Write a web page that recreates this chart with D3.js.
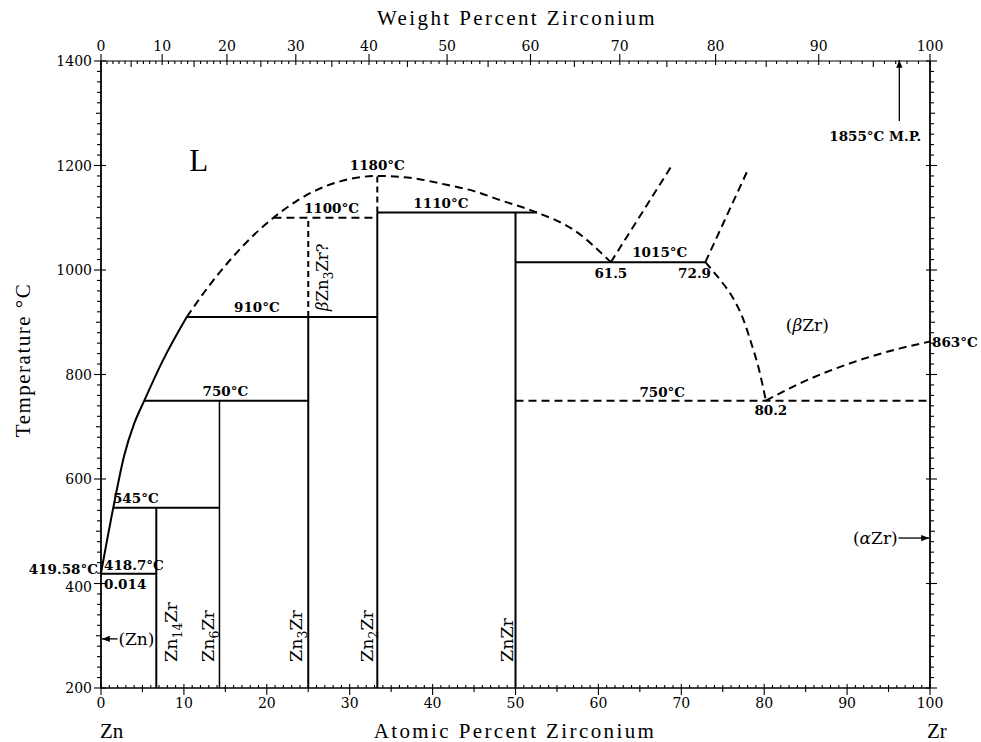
<!DOCTYPE html>
<html><head><meta charset="utf-8">
<script src="https://cdn.jsdelivr.net/npm/d3@7"></script>
<style>
body{margin:0;background:#fff;}
svg text{font-family:"DejaVu Serif",serif;fill:#000;}
</style></head>
<body><svg id="c" width="981" height="742"></svg>
<script>
// ---- data (atomic % Zr, temperature °C) ----
const atTicks = [0,10,20,30,40,50,60,70,80,90,100];
const wtTicks = [0,10,20,30,40,50,60,70,80,90,100];
const tempTicks = [200,400,600,800,1000,1200,1400];

const liquidusSolid = [[0,419.58],[1.48,545],[2.8,645],[4.0,706],[5.22,750],[7.5,828],[10.34,910]];
const liquidusDashed = [[10.34,910],[13,969],[15.9,1025],[18.5,1068],[20.8,1100],[23.5,1131],[26,1153],[28.5,1168],[31,1177],[33.33,1180],[37,1177],[41.7,1163],[45,1151],[48.1,1134],[52.6,1110],[57,1077],[61.5,1015]];
const boundary615 = [[61.5,1015],[68.7,1196]];
const boundary729 = [[72.9,1015],[78.1,1194]];
const betaZrSolvus = [[72.9,1015],[75.9,955],[78.7,847],[80.2,750]];
const betaAlpha = [[80.2,750],[84.3,783],[90.3,821],[96.4,850],[100,863]];

const compoundX = [6.67,14.29,25,33.33,50];
const compoundTop = [545,750,910,1110,1110];
const compoundNames = [["Zn","14","Zr"],["Zn","6","Zr"],["Zn","3","Zr"],["Zn","2","Zr"],["ZnZr","",""]];

const isoT = [418.7,545,750,910,1100,1110,1015,750];
const isoX0 = [0,1.48,5.22,10.34,20.8,33.33,50,50];
const isoX1 = [6.67,14.29,25,33.33,33.33,52.6,72.9,100];
const isoDashed = [false,false,false,false,true,false,false,true];

const dashV = [[25,910,1100],[33.33,1110,1180]];

// ---- scales ----
const svg = d3.select("#c");
const x = d3.scaleLinear().domain([0,100]).range([101,930]);
const y = d3.scaleLinear().domain([200,1400]).range([688,61]);
const wtToAt = w => { const a=w/91.224, b=(100-w)/65.38; return (a+b)===0?0:100*a/(a+b); };

const g = svg.append("g");
const line = d3.line().x(d=>x(d[0])).y(d=>y(d[1])).curve(d3.curveMonotoneX);
const lineY = d3.line().x(d=>x(d[0])).y(d=>y(d[1])).curve(d3.curveMonotoneY);
const straight = d3.line().x(d=>x(d[0])).y(d=>y(d[1]));

// ---- axes frame ----
g.append("line").attr("x1",x(0)).attr("x2",x(100)).attr("y1",y(200)).attr("y2",y(200)).attr("stroke","#000").attr("stroke-width",1.6);
g.append("line").attr("x1",x(0)).attr("x2",x(100)).attr("y1",y(1400)).attr("y2",y(1400)).attr("stroke","#000").attr("stroke-width",1.2);
g.append("line").attr("x1",x(0)).attr("x2",x(0)).attr("y1",y(200)).attr("y2",y(1400)).attr("stroke","#000").attr("stroke-width",1.8);
g.append("line").attr("x1",x(100)).attr("x2",x(100)).attr("y1",y(200)).attr("y2",y(1400)).attr("stroke","#000").attr("stroke-width",1.8);

const tk = g.append("g").attr("stroke","#000").attr("stroke-width",1.1);
d3.range(0,101,1).forEach(v=>{
  const major = v%10===0, mid = v%5===0;
  tk.append("line").attr("x1",x(v)).attr("x2",x(v))
    .attr("y1",y(200)-(major?4:3)).attr("y2",y(200)+(major?7:(mid?4:0)));
});
d3.range(0,101,1).forEach(v=>{
  const major = v%10===0, mid = v%5===0;
  const px = x(wtToAt(v));
  tk.append("line").attr("x1",px).attr("x2",px)
    .attr("y1",y(1400)-(major?7:0)).attr("y2",y(1400)+(major?4:(mid?6:3)));
});
d3.range(200,1401,20).forEach(v=>{
  const major = v%200===0, mid=v%100===0;
  tk.append("line").attr("x1",x(0)-(major?7:(mid?5:4))).attr("x2",x(0)+(major?5:0))
    .attr("y1",y(v)).attr("y2",y(v));
});
d3.range(200,1401,20).forEach(v=>{
  const major = v%200===0, mid=v%100===0;
  tk.append("line").attr("x1",x(100)-(major?4:0)).attr("x2",x(100)+(major?7:(mid?5:4)))
    .attr("y1",y(v)).attr("y2",y(v));
});

// tick labels
atTicks.forEach(v=>{
  g.append("text").attr("x",x(v)).attr("y",y(200)+20).attr("text-anchor","middle")
   .attr("font-size",14).text(v);
});
wtTicks.forEach(v=>{
  g.append("text").attr("x",x(wtToAt(v))).attr("y",y(1400)-10).attr("text-anchor","middle")
   .attr("font-size",14).text(v);
});
tempTicks.forEach(v=>{
  g.append("text").attr("x",x(0)-9).attr("y",y(v)+(v===400?8:5)).attr("text-anchor","end")
   .attr("font-size",14).text(v);
});

// axis titles
const TF = "'Liberation Serif',serif";
g.append("text").attr("x",517).attr("y",25).attr("text-anchor","middle")
  .attr("letter-spacing",2.4).style("font-family",TF).attr("font-size",21).text("Weight Percent Zirconium");
g.append("text").attr("x",515).attr("y",738).attr("text-anchor","middle")
  .style("font-family",TF).attr("font-size",21).attr("letter-spacing",2.4).text("Atomic Percent Zirconium");
g.append("text").attr("transform","translate(30,360) rotate(-90)").attr("text-anchor","middle")
  .style("font-family",TF).attr("font-size",21).attr("letter-spacing",1.5).text("Temperature °C");
g.append("text").attr("x",100).attr("y",738).style("font-family",TF).attr("font-size",21).text("Zn");
g.append("text").attr("x",927).attr("y",738).style("font-family",TF).attr("font-size",21).text("Zr");

// ---- phase boundaries ----
const P = g.append("g").attr("fill","none").attr("stroke","#000").attr("stroke-width",2);
const dash = "8,5";
P.append("path").attr("d",line(liquidusSolid));
P.append("path").attr("d",line(liquidusDashed)).attr("stroke-dasharray",dash);
P.append("path").attr("d",straight(boundary615)).attr("stroke-dasharray",dash);
P.append("path").attr("d",straight(boundary729)).attr("stroke-dasharray",dash);
P.append("path").attr("d",lineY(betaZrSolvus)).attr("stroke-dasharray",dash);
P.append("path").attr("d",line(betaAlpha)).attr("stroke-dasharray",dash);

compoundX.forEach((cx,i)=>{
  P.append("line").attr("x1",x(cx)).attr("x2",x(cx)).attr("y1",y(200)).attr("y2",y(compoundTop[i]))
   .attr("stroke-width", i===1?1.5:2);
});
isoT.forEach((t,i)=>{
  P.append("line").attr("x1",x(isoX0[i])).attr("x2",x(isoX1[i])).attr("y1",y(t)).attr("y2",y(t))
   .attr("stroke-dasharray",isoDashed[i]?dash:null);
});
dashV.forEach(d=>{
  P.append("line").attr("x1",x(d[0])).attr("x2",x(d[0])).attr("y1",y(d[1])).attr("y2",y(d[2]))
   .attr("stroke-dasharray","6,4");
});

// ---- annotations ----
const A = g.append("g").attr("font-size",13.5).attr("font-weight",600);
function lab(t,px,py,anchor){ A.append("text").attr("x",px).attr("y",py).attr("text-anchor",anchor||"middle").text(t); }
lab("1180°C",x(33.33),y(1180)-6);
lab("1100°C",x(27.8),y(1100)-5);
lab("1110°C",x(41),y(1110)-5);
lab("910°C",x(18.8),y(910)-5);
lab("750°C",x(15),y(750)-5);
lab("545°C",x(4.2),y(545)-5);
lab("418.7°C",x(0)+3,y(418.7)-4,"start");
lab("0.014",x(0)+3,y(418.7)+15,"start");
lab("419.58°C",x(0)-3,y(419.58)+1,"end");
lab("1015°C",x(67.4),y(1015)-5);
lab("61.5",x(61.5),y(1015)+16);
lab("72.9",x(71.6),y(1015)+16);
lab("750°C",x(67.7),y(750)-4);
lab("80.2",x(80.8),y(750)+14);
lab("863°C",x(100)+2,y(863)+5,"start");
lab("1855°C  M.P.",x(93.4),y(1255)+4);

A.append("text").attr("x",x(11.8)).attr("y",y(1190)).attr("text-anchor","middle").attr("font-weight",400)
  .style("font-family",TF).attr("font-size",31).text("L");

function phaseLabel(parts,px,py,anchor){
  const t = A.append("text").attr("x",px).attr("y",py).attr("text-anchor",anchor||"middle").attr("font-size",17).attr("font-weight",500);
  parts.forEach(p=>{ const s=t.append("tspan").text(p[0]); if(p[1]) s.style("font-style","italic"); });
}
phaseLabel([["("],["β",1],["Zr)"]],x(85.2),y(895)+6);
phaseLabel([["("],["α",1],["Zr)"]],x(96.1),y(487)+6,"end");
phaseLabel([["(Zn)"]],x(2.1),y(294)+6,"start");

const defs = svg.append("defs");
defs.append("marker").attr("id","ah").attr("viewBox","0 0 10 10").attr("refX",10).attr("refY",5)
  .attr("markerWidth",8).attr("markerHeight",6).attr("orient","auto-start-reverse")
  .append("path").attr("d","M0,1 L10,5 L0,9 Z").attr("fill","#000");
const AR = g.append("g").attr("stroke","#000").attr("stroke-width",1.3);
AR.append("line").attr("x1",x(2.0)).attr("x2",x(0)+1).attr("y1",y(294)).attr("y2",y(294)).attr("marker-end","url(#ah)");
AR.append("line").attr("x1",x(96.2)).attr("x2",x(100)-1).attr("y1",y(487)).attr("y2",y(487)).attr("marker-end","url(#ah)");
AR.append("line").attr("x1",x(96.3)).attr("x2",x(96.3)).attr("y1",y(1285)).attr("y2",y(1400)-1).attr("marker-end","url(#ah)");

const vx = [177,214,302,373,513];
compoundNames.forEach((n,i)=>{
  const t = A.append("text").attr("transform",`translate(${vx[i]},662) rotate(-90)`).attr("font-size",17.5).attr("font-weight",500);
  t.append("tspan").text(n[0]);
  if(n[1]){ t.append("tspan").attr("dy",5).attr("font-size",12.5).text(n[1]);
            t.append("tspan").attr("dy",-5).text(n[2]); }
});
const bt = A.append("text").attr("transform","translate(328,311) rotate(-90)").attr("font-size",16.5).attr("font-weight",500);
bt.append("tspan").style("font-style","italic").text("β");
bt.append("tspan").text("Zn");
bt.append("tspan").attr("dy",5).attr("font-size",12).text("3");
bt.append("tspan").attr("dy",-5).text("Zr?");
</script></body></html>
